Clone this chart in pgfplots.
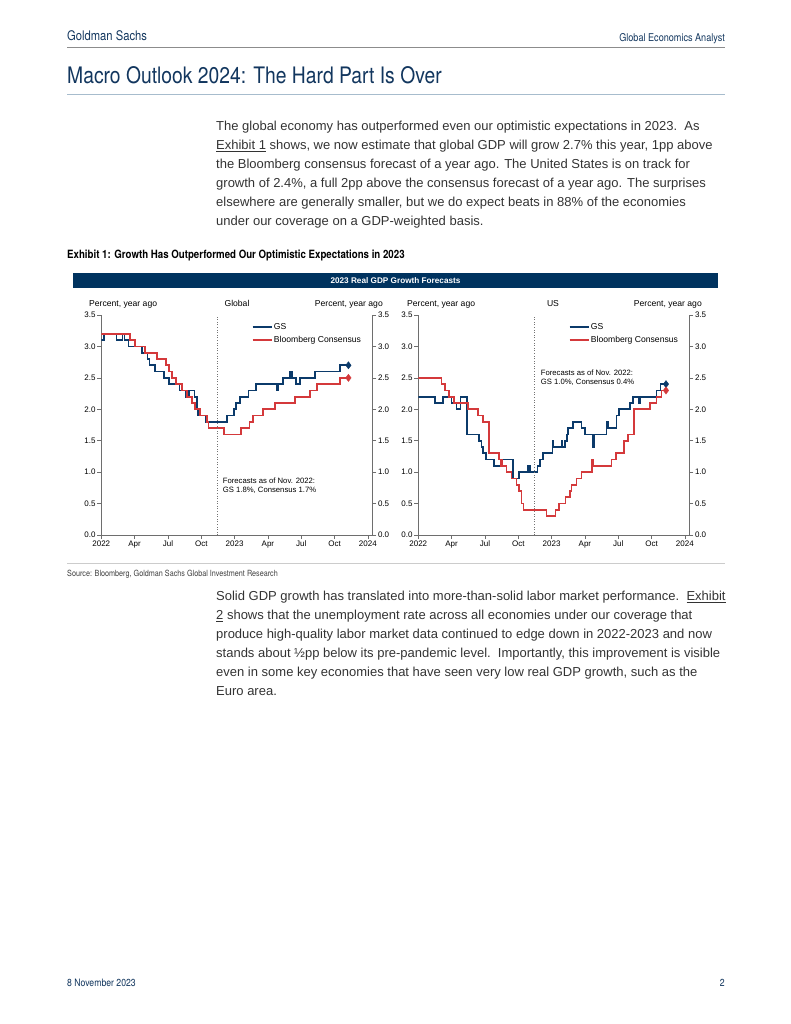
\documentclass[border=0pt]{standalone}
\usepackage{fontspec}
\setmainfont{Liberation Sans}
\newfontfamily\condfont[FakeStretch=0.85]{TeX Gyre Heros}
\usepackage{pgfplots}
\pgfplotsset{compat=1.18}

\definecolor{gsnavy}{HTML}{0B3A6A}
\definecolor{gsred}{HTML}{D4393B}
\definecolor{barnavy}{HTML}{00335F}
\definecolor{titlenavy}{HTML}{12365E}
\definecolor{bodygray}{HTML}{333333}
\definecolor{rulegray}{HTML}{8C8C8C}
\definecolor{ruleblue}{HTML}{A7BCCD}
\definecolor{axisgray}{HTML}{6E6E6E}

\newcommand{\ticksize}{\fontsize{8bp}{9bp}\selectfont}
\newcommand{\labsize}{\fontsize{8.6bp}{10bp}\selectfont}
\newcommand{\notesize}{\fontsize{7.7bp}{8.8bp}\selectfont}
\newcommand{\bodysize}{\fontsize{13bp}{19bp}\selectfont}

% x is months since Jan 2022
\pgfplotsset{
  gdppanel/.style={
    scale only axis, width=271bp, height=220bp,
    xmin=0, xmax=24.4, ymin=0, ymax=3.5,
    ytick={0,0.5,...,3.5},
    tick align=outside, major tick length=4bp,
    tick style={axisgray, line width=0.6bp},
    axis line style={-, draw=axisgray, line width=0.8bp},
    tick label style={font=\ticksize, inner sep=1.5bp},
    /pgf/number format/fixed, /pgf/number format/fixed zerofill,
    /pgf/number format/precision=1, /pgf/number format/assume math mode=true,
  },
  gdpleft/.style={
    gdppanel,
    axis x line*=bottom, axis y line*=left,
    xtick={0,3,...,24},
    xticklabels={2022,Apr,Jul,Oct,2023,Apr,Jul,Oct,2024},
    legend style={at={(0.554,0.969)}, anchor=north west, draw=none, fill=none,
      font=\labsize, inner sep=0pt, row sep=2.2bp,
      nodes={inner sep=1.5bp}},
    legend cell align=left,
    legend image code/.code={\draw[#1, line width=1.8bp] (0bp,0bp) -- (19bp,0bp);},
  },
  gdpright/.style={
    gdppanel, axis y line*=right, axis x line=none, xtick=\empty,
  },
  gs/.style={gsnavy, line width=1.7bp, const plot},
  bbg/.style={gsred, line width=1.7bp, const plot},
}

\begin{document}
\begin{tikzpicture}
\path (0,0) rectangle (791bp,-1024bp);

\begin{scope}[x=1bp,y=-1bp]
  % header
  \node[anchor=base west, inner sep=0, text=titlenavy] at (67,40.5)
    {\condfont\fontsize{13.2bp}{15bp}\selectfont Goldman Sachs};
  \node[anchor=base east, inner sep=0, text=titlenavy] at (725,41.5)
    {\condfont\fontsize{10.7bp}{12bp}\selectfont Global Economics Analyst};
  \draw[rulegray, line width=1bp] (67,47.5) -- (725,47.5);
  \node[anchor=base west, inner sep=0, text=titlenavy] at (67,83)
    {\condfont\fontsize{22.7bp}{26bp}\selectfont Macro Outlook 2024: The Hard Part Is Over};
  \draw[ruleblue, line width=1.5bp] (67,94.5) -- (725,94.5);

  % paragraph 1 and 2
  \begin{scope}[every node/.style={anchor=base west, inner sep=0, text=bodygray, font=\bodysize}]
    \node at (216,130.5) {The global economy has outperformed even our optimistic expectations in 2023.\ \ As};
    \node at (216,149.5) {\underline{Exhibit 1} shows, we now estimate that global GDP will grow 2.7\% this year, 1pp above};
    \node at (216,168.5) {the Bloomberg consensus forecast of a year ago. The United States is on track for};
    \node at (216,187.5) {growth of 2.4\%, a full 2pp above the consensus forecast of a year ago. The surprises};
    \node at (216,206.5) {elsewhere are generally smaller, but we do expect beats in 88\% of the economies};
    \node at (216,225.5) {under our coverage on a GDP-weighted basis.};

    \node at (216,600.5) {Solid GDP growth has translated into more-than-solid labor market performance.\ \ \underline{Exhibit}};
    \node at (216,619.5) {\underline{2} shows that the unemployment rate across all economies under our coverage that};
    \node at (216,638.5) {produce high-quality labor market data continued to edge down in 2022-2023 and now};
    \node at (216,657.5) {stands about ½pp below its pre-pandemic level.\ \ Importantly, this improvement is visible};
    \node at (216,676.5) {even in some key economies that have seen very low real GDP growth, such as the};
    \node at (216,695.5) {Euro area.};
  \end{scope}

  % exhibit title
  \node[anchor=base west, inner sep=0, text=black] at (67,258.5)
    {\condfont\bfseries\fontsize{11.4bp}{13bp}\selectfont Exhibit 1: Growth Has Outperformed Our Optimistic Expectations in 2023};
  \fill[barnavy] (73,273) rectangle (718,287.5);
  \node[text=white, inner sep=0, font=\bfseries\fontsize{8.2bp}{9bp}\selectfont] at (395.5,280.3)
    {2023 Real GDP Growth Forecasts};

  % panel headings
  \begin{scope}[every node/.style={inner sep=0, font=\labsize, text=black}]
    \node[anchor=base west] at (89,306) {Percent, year ago};
    \node[anchor=base] at (237,306) {Global};
    \node[anchor=base east] at (383,306) {Percent, year ago};
    \node[anchor=base west] at (407,306) {Percent, year ago};
    \node[anchor=base] at (553,306) {US};
    \node[anchor=base east] at (702,306) {Percent, year ago};
  \end{scope}
  \begin{scope}[every node/.style={inner sep=0, font=\notesize, text=black, anchor=base west}]
    \node at (222.7,483.5) {Forecasts as of Nov. 2022:};
    \node at (222.7,492.3) {GS 1.8\%, Consensus 1.7\%};
    \node at (540.7,375) {Forecasts as of Nov. 2022:};
    \node at (540.7,384) {GS 1.0\%, Consensus 0.4\%};
  \end{scope}

  % source and footer
  \draw[black!20, line width=0.8bp] (67,563) -- (725,563);
  \node[anchor=base west, inner sep=0, text=black!75] at (67,576.5)
    {\condfont\fontsize{8.5bp}{10bp}\selectfont Source: Bloomberg, Goldman Sachs Global Investment Research};
  \node[anchor=base west, inner sep=0, text=titlenavy] at (67,986)
    {\condfont\fontsize{10.2bp}{12bp}\selectfont 8 November 2023};
  \node[anchor=base east, inner sep=0, text=titlenavy] at (725,986)
    {\condfont\fontsize{10.2bp}{12bp}\selectfont 2};
\end{scope}

% ---------- Global panel ----------
\begin{axis}[gdpleft, at={(101.3bp,-535bp)}, anchor=south west]
  \addplot[gs] coordinates {
    (0.00,3.1) (0.24,3.2) (1.38,3.1) (1.92,3.2) (2.10,3.1) (2.44,3.0)
    (3.64,2.9) (4.15,2.8) (4.33,2.7) (4.84,2.6) (5.65,2.5) (6.08,2.4)
    (7.04,2.3) (7.64,2.2) (7.88,2.3) (8.39,2.2) (8.60,2.0) (8.72,1.9)
    (9.38,1.8) (11.31,1.9) (11.97,2.0) (12.15,2.1) (12.51,2.2) (13.26,2.3)
    (13.93,2.4) (15.82,2.3) (15.94,2.4) (16.36,2.5) (17.02,2.6) (17.14,2.5)
    (17.53,2.4) (17.89,2.5) (19.22,2.6) (21.47,2.7) (22.20,2.7)
  };
  \addlegendentry{GS}
  \addplot[bbg] coordinates {
    (0.00,3.2) (2.59,3.1) (3.04,3.0) (3.94,2.9) (4.99,2.8) (5.83,2.7)
    (6.11,2.6) (6.35,2.5) (6.74,2.4) (7.25,2.3) (7.70,2.2) (8.15,2.1)
    (8.45,2.0) (8.90,1.9) (9.50,1.8) (9.65,1.7) (11.07,1.6) (12.57,1.7)
    (13.35,1.8) (13.65,1.9) (14.56,2.0) (15.67,2.1) (17.47,2.2) (18.77,2.3)
    (19.43,2.4) (21.47,2.5) (22.14,2.5)
  };
  \addlegendentry{Bloomberg Consensus}
  \addplot[forget plot, black!55, dotted, line width=0.6bp] coordinates {(10.44,0) (10.44,3.5)};
  \addplot[forget plot, only marks, mark=diamond*, mark size=3.6bp, gsnavy] coordinates {(22.25,2.7)};
  \addplot[forget plot, only marks, mark=diamond*, mark size=3.6bp, gsred] coordinates {(22.25,2.5)};
\end{axis}
\begin{axis}[gdpright, at={(101.3bp,-535bp)}, anchor=south west]
\end{axis}

% ---------- US panel ----------
\begin{axis}[gdpleft, at={(418.3bp,-535bp)}, anchor=south west]
  \addplot[gs] coordinates {
    (0.00,2.2) (1.50,2.1) (2.25,2.2) (3.00,2.1) (3.45,2.0) (3.81,2.2)
    (4.41,1.6) (5.46,1.5) (5.70,1.4) (5.85,1.3) (6.09,1.2) (6.81,1.1)
    (7.50,1.2) (8.55,0.9) (9.06,1.0) (9.90,1.1) (10.05,1.0) (10.74,1.1)
    (10.98,1.2) (11.25,1.3) (12.09,1.5) (12.18,1.4) (12.90,1.5) (12.99,1.4)
    (13.20,1.5) (13.38,1.6) (13.50,1.7) (13.95,1.8) (14.70,1.7) (15.00,1.6)
    (15.75,1.4) (15.87,1.6) (16.95,1.8) (17.07,1.7) (17.85,1.9) (18.06,2.0)
    (19.05,2.1) (19.35,2.2) (19.89,2.1) (20.01,2.2) (21.45,2.3) (21.81,2.4)
    (22.29,2.4)
  };
  \addlegendentry{GS}
  \addplot[bbg] coordinates {
    (0.00,2.5) (2.10,2.4) (2.40,2.3) (2.76,2.2) (3.21,2.1) (4.50,2.0)
    (5.40,1.9) (5.85,1.8) (6.39,1.3) (7.29,1.2) (7.41,1.1) (7.50,1.2)
    (7.59,1.1) (7.95,1.0) (8.40,0.9) (8.85,0.8) (9.06,0.7) (9.30,0.5)
    (9.48,0.4) (11.55,0.3) (12.36,0.4) (12.66,0.5) (13.26,0.6) (13.65,0.7)
    (13.80,0.8) (14.25,0.9) (14.70,1.0) (15.66,1.2) (15.75,1.1) (17.40,1.2)
    (17.79,1.3) (18.54,1.5) (18.90,1.6) (19.44,2.0) (20.85,2.1) (21.45,2.2)
    (21.90,2.3) (22.29,2.3)
  };
  \addlegendentry{Bloomberg Consensus}
  \addplot[forget plot, black!55, dotted, line width=0.6bp] coordinates {(10.44,0) (10.44,3.5)};
  \addplot[forget plot, only marks, mark=diamond*, mark size=3.6bp, gsnavy] coordinates {(22.3,2.4)};
  \addplot[forget plot, only marks, mark=diamond*, mark size=3.6bp, gsred] coordinates {(22.3,2.3)};
\end{axis}
\begin{axis}[gdpright, at={(418.3bp,-535bp)}, anchor=south west]
\end{axis}
\end{tikzpicture}
\end{document}
